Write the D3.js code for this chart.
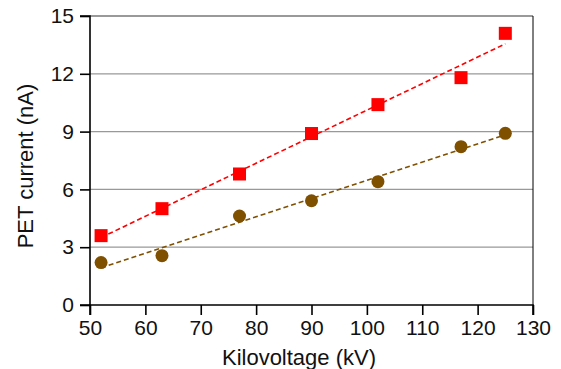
<!DOCTYPE html>
<html>
<head>
<meta charset="utf-8">
<script src="https://cdn.jsdelivr.net/npm/d3@7"></script>
<style>
  body { margin: 0; background: #fff; }
  svg { font-family: "Liberation Sans", Arial, sans-serif; }
</style>
</head>
<body>
<svg id="chart" width="561" height="369"></svg>
<script>
// data
var kv = [52, 63, 77, 90, 102, 117, 125];
var red_vals = [3.6, 5.0, 6.8, 8.9, 10.4, 11.8, 14.1];
var brown_vals = [2.2, 2.56, 4.62, 5.41, 6.4, 8.22, 8.91];
var x_ticks = [50, 60, 70, 80, 90, 100, 110, 120, 130];
var y_ticks = [0, 3, 6, 9, 12, 15];

var svg = d3.select('#chart');
var m_left = 90, m_right = 533, m_top = 16, m_bottom = 305;

var x = d3.scaleLinear().domain([50, 130]).range([m_left, m_right]);
var y = d3.scaleLinear().domain([0, 15]).range([m_bottom, m_top]);

// least squares fit for the dashed trend lines
function fit(xs, ys){
    var mx = d3.mean(xs), my = d3.mean(ys), sxy = 0, sxx = 0;
    for(var i=0; i<xs.length; i++){
        sxy += (xs[i]-mx)*(ys[i]-my);
        sxx += (xs[i]-mx)*(xs[i]-mx);
    }
    var b = sxy/sxx;
    return function(v){ return my + b*(v-mx); };
}

// grid lines
svg.append('g').selectAll('line').data(y_ticks.filter(function(d){ return d > 0; })).enter()
    .append('line')
    .attr('x1', m_left).attr('x2', m_right)
    .attr('y1', function(d){ return y(d); }).attr('y2', function(d){ return y(d); })
    .attr('stroke', function(d){ return d == 15 ? '#777' : '#999'; })
    .attr('stroke-width', 1.3);

// right border
svg.append('line').attr('x1', m_right).attr('x2', m_right).attr('y1', m_top).attr('y2', m_bottom)
    .attr('stroke', '#000').attr('stroke-width', 1);

// axes
var xAxis = svg.append('g').attr('transform', 'translate(0,' + m_bottom + ')')
    .call(d3.axisBottom(x).tickValues(x_ticks).tickSize(10).tickPadding(5));
var yAxis = svg.append('g').attr('transform', 'translate(' + m_left + ',0)')
    .call(d3.axisLeft(y).tickValues(y_ticks).tickSize(10).tickPadding(6));

[xAxis, yAxis].forEach(function(a){
    a.attr('font-size', 21).attr('font-family', '"Liberation Sans", Arial, sans-serif');
    a.selectAll('path').attr('stroke', '#000').attr('stroke-width', 1.6);
    a.selectAll('line').attr('stroke', '#000').attr('stroke-width', 1.6);
    a.selectAll('text').attr('fill', '#111');
});
xAxis.select('.domain').attr('d', 'M' + m_left + ',10V0H' + m_right + 'V10');
yAxis.select('.domain').attr('d', 'M-10,' + m_top + 'H0V' + m_bottom + 'H-10');

// trend lines
var series = [
    { vals: brown_vals, color: '#7f5000', shape: 'circle' },
    { vals: red_vals, color: '#ff0000', shape: 'square' }
];

series.forEach(function(s){
    var f = fit(kv, s.vals);
    var x0 = d3.min(kv), x1 = d3.max(kv);
    svg.append('line')
        .attr('x1', x(x0)).attr('y1', y(f(x0)))
        .attr('x2', x(x1)).attr('y2', y(f(x1)))
        .attr('stroke', s.color).attr('stroke-width', 1.6)
        .attr('stroke-dasharray', '5,3');
});

// markers
series.forEach(function(s){
    var g = svg.append('g');
    if(s.shape == 'circle'){
        g.selectAll('circle').data(kv).enter().append('circle')
            .attr('cx', function(d){ return x(d); })
            .attr('cy', function(d, i){ return y(s.vals[i]); })
            .attr('r', 6.5).attr('fill', s.color);
    } else {
        g.selectAll('rect').data(kv).enter().append('rect')
            .attr('x', function(d){ return x(d) - 6.5; })
            .attr('y', function(d, i){ return y(s.vals[i]) - 6.5; })
            .attr('width', 13).attr('height', 13).attr('fill', s.color);
    }
});

// axis titles
svg.append('text').attr('x', 299).attr('y', 365)
    .attr('text-anchor', 'middle').attr('font-size', 22).attr('fill', '#111')
    .text('Kilovoltage (kV)');
svg.append('text').attr('transform', 'translate(33,166) rotate(-90)')
    .attr('text-anchor', 'middle').attr('font-size', 22).attr('fill', '#111')
    .text('PET current (nA)');
</script>
</body>
</html>
